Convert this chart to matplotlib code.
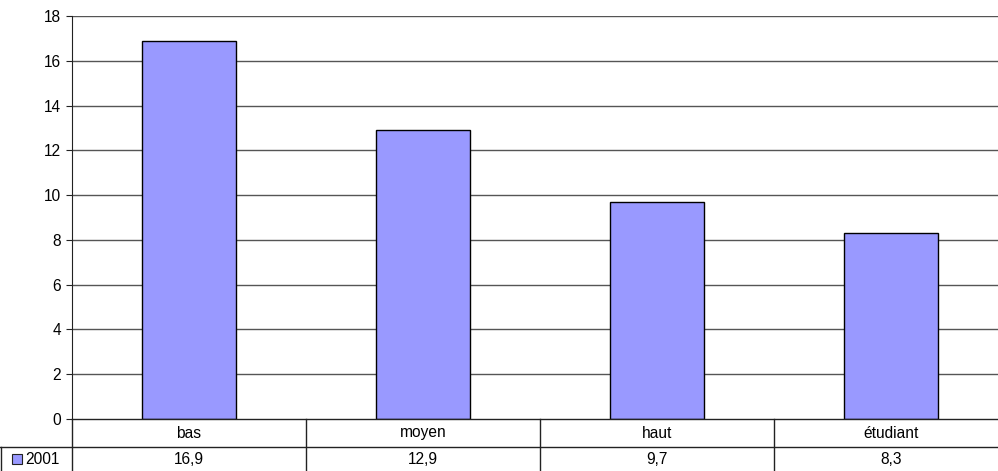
import matplotlib
matplotlib.use("Agg")
import matplotlib.pyplot as plt
from matplotlib.patches import Rectangle
from matplotlib.lines import Line2D

categories = ["bas", "moyen", "haut", "étudiant"]
values = [16.9, 12.9, 9.7, 8.3]
series_name = "2001"
value_labels = ["16,9", "12,9", "9,7", "8,3"]
yticks = [0, 2, 4, 6, 8, 10, 12, 14, 16, 18]

plt.rcParams['font.family'] = ['Liberation Sans', 'DejaVu Sans']
FS = 11.2
W, H = 998, 471
fig = plt.figure(figsize=(W / 100, H / 100), dpi=100)

# axes in pixel coords: left 72, right 1008, top 16, bottom 419
L, R, T, B = 72, 1008, 16, 419
ax = fig.add_axes([L / W, (H - B) / H, (R - L) / W, (B - T) / H])
bar_color = "#9999FF"
x = list(range(len(categories)))
ax.bar(x, values, width=0.4, color=bar_color, edgecolor="black", linewidth=1.0, zorder=3)
ax.set_xlim(-0.5, len(categories) - 0.5)
ax.set_ylim(0, 18)
ax.set_yticks(yticks)
ax.set_yticklabels([str(t) for t in yticks], fontsize=FS)
ax.set_xticks([])
for t in yticks[1:]:
    ax.axhline(t, color="#555555", linewidth=1.0, zorder=1)
for s in ["top", "right", "bottom"]:
    ax.spines[s].set_visible(False)
ax.spines["left"].set_color("#222222")
ax.tick_params(axis="y", length=4, color="#222222", pad=4)

def fx(px):
    return px / W
def fy(py):
    return 1 - py / H

col_w = (R - L) / len(categories)
lc = "#222222"
lines = []
lines.append(Line2D([fx(L), fx(R)], [fy(419), fy(419)]))
lines.append(Line2D([fx(0), fx(R)], [fy(447), fy(447)]))
for i in range(len(categories) + 1):
    xp = L + i * col_w
    lines.append(Line2D([fx(xp), fx(xp)], [fy(419), fy(471)]))
lines.append(Line2D([fx(0.5), fx(0.5)], [fy(447), fy(471)]))
for ln in lines:
    ln.set_color(lc)
    ln.set_linewidth(1.0)
    fig.add_artist(ln)

for i, (c, v) in enumerate(zip(categories, value_labels)):
    cx = L + (i + 0.5) * col_w
    fig.text(fx(cx), fy(433), c, ha="center", va="center", fontsize=FS)
    fig.text(fx(cx), fy(460), v, ha="center", va="center", fontsize=FS)

fig.add_artist(Rectangle((fx(12), fy(464)), 10 / W, 10 / H, facecolor=bar_color,
                         edgecolor="#222222", linewidth=0.8, transform=fig.transFigure))
fig.text(fx(25), fy(460), series_name, ha="left", va="center", fontsize=FS)

fig.savefig("out.png", dpi=100)
